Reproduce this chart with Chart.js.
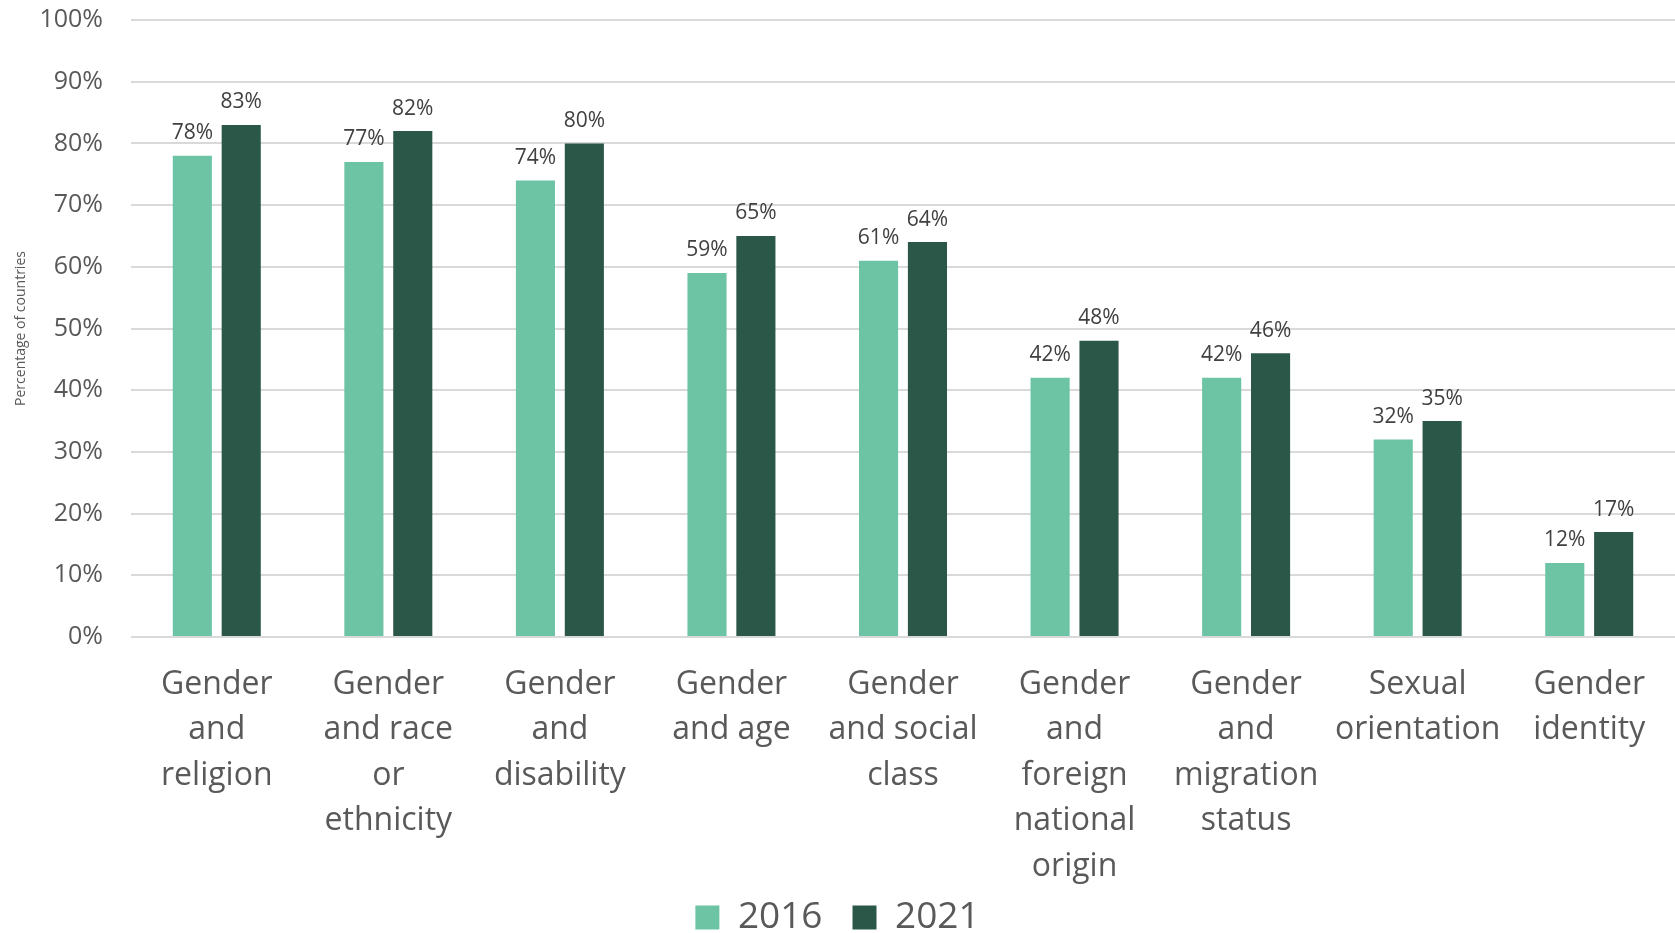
<!DOCTYPE html>
<html>
<head>
<meta charset="utf-8">
<title>Intersectional data by country</title>
<script src="https://cdn.jsdelivr.net/npm/chart.js@4/dist/chart.umd.min.js"></script>
<style>
  html, body { margin: 0; padding: 0; background: #ffffff; }
  #wrap { position: relative; width: 1675px; height: 933px; }
</style>
</head>
<body>
<div id="wrap"><canvas id="chart"></canvas></div>
<script>
  // Categories (multi-line tick labels)
  const categories = [
    ['Gender', 'and', 'religion'],
    ['Gender', 'and race', 'or', 'ethnicity'],
    ['Gender', 'and', 'disability'],
    ['Gender', 'and age'],
    ['Gender', 'and social', 'class'],
    ['Gender', 'and', 'foreign', 'national', 'origin'],
    ['Gender', 'and', 'migration', 'status'],
    ['Sexual', 'orientation'],
    ['Gender', 'identity']
  ];

  // Share of countries, in percent
  const values2016 = [78, 77, 74, 59, 61, 42, 42, 32, 12];
  const values2021 = [83, 82, 80, 65, 64, 48, 46, 35, 17];

  const seriesLabels = ['2016', '2021'];
  const yTicks = [0, 10, 20, 30, 40, 50, 60, 70, 80, 90, 100];

  const FONT = '"Open Sans", "Noto Sans", sans-serif';
  const TEXT = '#595959';

  // Draws the value above each bar
  const barValueLabels = {
    id: 'barValueLabels',
    afterDatasetsDraw(chart) {
      const ctx = chart.ctx;
      ctx.save();
      ctx.font = '21px ' + FONT;
      ctx.fillStyle = '#404040';
      ctx.textAlign = 'center';
      ctx.textBaseline = 'bottom';
      chart.data.datasets.forEach((ds, di) => {
        const meta = chart.getDatasetMeta(di);
        meta.data.forEach((bar, i) => {
          ctx.fillText(ds.data[i] + '%', bar.x, bar.y - 12);
        });
      });
      ctx.restore();
    }
  };

  // Pulls the legend up so it sits right under the wrapped category labels
  const legendNudge = {
    id: 'legendNudge',
    afterLayout(chart) {
      if (chart.legend) {
        chart.legend.top -= 20;
        chart.legend.bottom -= 20;
      }
    }
  };

  new Chart(document.getElementById('chart'), {
    type: 'bar',
    data: {
      labels: categories,
      datasets: [
        {
          label: seriesLabels[0],
          data: values2016,
          backgroundColor: '#6CC4A5',
          categoryPercentage: 0.57,
          barPercentage: 0.8
        },
        {
          label: seriesLabels[1],
          data: values2021,
          backgroundColor: '#2B5748',
          categoryPercentage: 0.57,
          barPercentage: 0.8
        }
      ]
    },
    options: {
      responsive: true,
      maintainAspectRatio: false,
      animation: false,
      layout: { padding: { top: 0, right: 0, bottom: -33, left: 0 } },
      scales: {
        x: {
          grid: { display: false, drawTicks: false },
          border: { display: false },
          afterFit(axis) {
            axis.height = 252;
          },
          ticks: {
            color: TEXT,
            font: { family: FONT, size: 32, lineHeight: 1.42 },
            padding: 25,
            maxRotation: 0,
            autoSkip: false
          }
        },
        y: {
          min: 0,
          max: 100,
          afterBuildTicks(axis) {
            axis.ticks = yTicks.map(v => ({ value: v }));
          },
          afterFit(axis) {
            axis.width = 131;
            // keep the tick padding from pushing the plot area down
            axis.paddingTop = 20;
            axis.paddingBottom = 0;
          },
          grid: { color: '#D9D9D9', lineWidth: 2, drawTicks: false },
          border: { display: false },
          ticks: {
            color: TEXT,
            font: { family: FONT, size: 25 },
            padding: 28,
            callback: v => v + '%'
          },
          title: {
            display: true,
            text: 'Percentage of countries',
            color: TEXT,
            font: { family: FONT, size: 14 },
            padding: { top: 13, bottom: 0 }
          }
        }
      },
      plugins: {
        legend: {
          position: 'bottom',
          labels: {
            color: TEXT,
            font: { family: FONT, size: 37 },
            boxWidth: 24,
            boxHeight: 24,
            padding: 30
          }
        },
        tooltip: { enabled: false }
      }
    },
    plugins: [barValueLabels, legendNudge]
  });
</script>
</body>
</html>
